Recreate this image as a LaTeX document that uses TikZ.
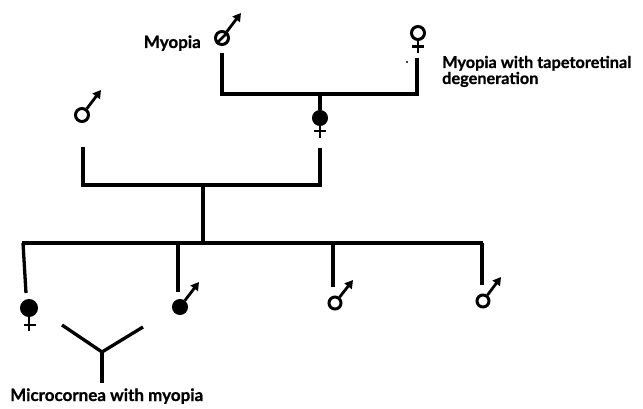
\documentclass[tikz,border=0pt]{standalone}
\usepackage{fontspec}
\setmainfont{Lato}[BoldFeatures={FakeBold=0.8}]
\usetikzlibrary{arrows.meta}
\begin{document}
\begin{tikzpicture}[x=1pt,y=-1pt,
  ln/.style={line width=3.3pt},
  thin2/.style={line width=2.8pt},
  ind/.style={circle,draw,line width=3pt,minimum size=13pt,inner sep=0pt},
  aff/.style={ind,fill=black},
  marrow/.style={line width=2.8pt,-{Triangle[length=8pt,width=9pt]}},
  lbl/.style={font=\bfseries\fontsize{17}{16}\selectfont,inner sep=0pt}]
\useasboundingbox (0,0) rectangle (643,409);
% generation I
\node[ind] (m1) at (222,38) {};
\draw[thin2] (m1.225) -- (m1.45);
\coordinate (m1t) at (241,13);
\draw[marrow] (m1) -- (m1t);
\node[lbl,anchor=base east] (l1) at (201,48) {Myopia};
\node[ind] (f1) at (418,33) {};
\draw[thin2] (f1.south) -- ++(0,12) coordinate (f1c);
\draw[thin2] (412,46.5) -- (424,46.5);
\fill (407,62) circle (1.2pt);
\node[lbl,font=\bfseries\fontsize{16.3}{16}\selectfont,anchor=base west,align=left] (l2) at (442,84) {Myopia with tapetoretinal\\degeneration};
\coordinate (m1d) at (222,53);
\coordinate (f1d) at (417,58);
\draw[ln] (m1d) |- (f1d |- 0,94) coordinate (mar1r) -- (f1d);
% generation II
\coordinate (c1top) at (320,94);
\node[aff] (c1) at (320,118) {};
\draw[ln] (c1top) -- (c1);
\draw[thin2] (c1.south) -- ++(0,12);
\draw[thin2] (314,131) -- (326,131);
\node[ind] (m2) at (82,115) {};
\coordinate (m2t) at (101,90);
\draw[marrow] (m2) -- (m2t);
\coordinate (m2d) at (83,147);
\coordinate (c1d) at (320,148);
\draw[ln] (m2d) |- (c1d |- 0,185) coordinate (mar2r) -- (c1d);
% descent
\coordinate (dtop) at (203,185);
\coordinate (dbot) at (203,243);
\draw[ln] (dtop) -- (dbot);
\coordinate (sl) at (22,243);
\coordinate (sr) at (483,243);
\draw[ln] (sl) -- (sr);
% generation III
\node[aff,minimum size=15pt] (k1) at (29,308) {};
\draw[ln] (23,243) -- (26,293);
\draw[thin2] (k1.south) -- ++(0,14);
\draw[thin2] (24,325) -- (36,325);
\node[aff] (k2) at (180,307) {};
\draw[ln] (178,243) -- (178,292);
\coordinate (k2t) at (199,282);
\draw[marrow] (k2) -- (k2t);
\node[ind,minimum size=12pt] (k3) at (335,303) {};
\draw[ln] (333,243) -- (333,287);
\coordinate (k3t) at (353,280);
\draw[marrow] (k3) -- (k3t);
\node[ind,minimum size=12pt] (k4) at (483,301) {};
\draw[ln] (482,243) -- (482,285);
\coordinate (k4t) at (501,277);
\draw[marrow] (k4) -- (k4t);
% Y symbol
\coordinate (yc) at (102,352);
\coordinate (yl) at (62,325);
\coordinate (yr) at (143,327);
\coordinate (yb) at (102,383);
\draw[ln] (yl) -- (yc) -- (yr);
\draw[ln] (yc) -- (yb);
\node[lbl,anchor=base west] (l3) at (10,401) {Microcornea with myopia};
\end{tikzpicture}
\end{document}
